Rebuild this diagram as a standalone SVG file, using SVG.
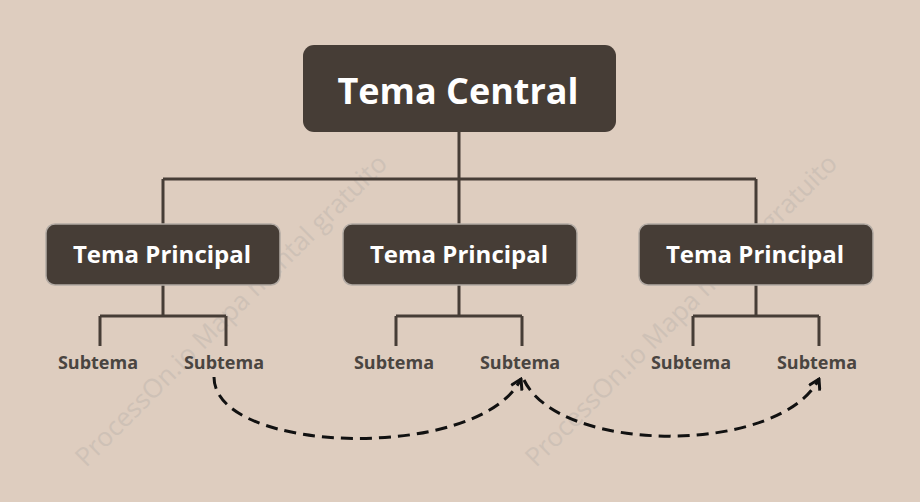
<svg xmlns="http://www.w3.org/2000/svg" width="920" height="502" viewBox="0 0 920 502">
<defs>
<style>
.wm{font-family:"Open Sans","Liberation Sans",sans-serif;font-size:26px;fill:#cec1b6;}
.tree{fill:none;stroke:#463d36;stroke-width:3;}
.central rect{fill:#463d36;}
.main rect{fill:#463d36;stroke:#b3aba4;stroke-width:1.5;}
.t1{font-family:"Open Sans","Liberation Sans",sans-serif;font-weight:bold;font-size:36px;fill:#ffffff;text-anchor:middle;}
.t2{font-family:"Open Sans","Liberation Sans",sans-serif;font-weight:bold;font-size:24px;fill:#ffffff;text-anchor:middle;}
.t3{font-family:"Open Sans","Liberation Sans",sans-serif;font-weight:bold;font-size:18px;fill:#4a4541;text-anchor:middle;}
.rel{fill:none;stroke:#111111;stroke-width:3;stroke-dasharray:12 7;}
</style>
<marker id="arr" viewBox="0 0 14 14" refX="12" refY="7" markerWidth="14" markerHeight="14" markerUnits="userSpaceOnUse" orient="auto">
<path d="M2,1 L12,7 L2,13" fill="none" stroke="#111111" stroke-width="3"/>
</marker>
</defs>
<rect width="920" height="502" fill="#decdbf"/>
<g id="watermark">
<text class="wm" x="86" y="468" transform="rotate(-45 86 468)">ProcessOn.io Mapa mental gratuito</text>
<text class="wm" x="536" y="468" transform="rotate(-45 536 468)">ProcessOn.io Mapa mental gratuito</text>
</g>
<g id="connectors">
<path class="tree" d="M459,132 V179 M163,179 H756 M163,179 V225 M459,179 V225 M756,179 V225"/>
<path class="tree" d="M163,285 V316 M100,316 H226 M100,316 V346 M226,316 V346"/>
<path class="tree" d="M459,285 V316 M396,316 H522 M396,316 V346 M522,316 V346"/>
<path class="tree" d="M756,285 V316 M693,316 H819 M693,316 V346 M819,316 V346"/>
<path class="rel" d="M214,377 C214,455 480,462 521,379" marker-end="url(#arr)"/>
<path class="rel" d="M524,380 C560,455 780,455 819,379" marker-end="url(#arr)"/>
</g>
<g id="central" class="central">
<rect x="303" y="45" width="313" height="87" rx="11"/>
<text class="t1" x="458" y="104">Tema Central</text>
</g>
<g id="main1" class="main">
<rect x="46" y="224" width="234" height="61" rx="9"/>
<text class="t2" x="162" y="263">Tema Principal</text>
</g>
<g id="main2" class="main">
<rect x="343" y="224" width="234" height="61" rx="9"/>
<text class="t2" x="459" y="263">Tema Principal</text>
</g>
<g id="main3" class="main">
<rect x="639" y="224" width="234" height="61" rx="9"/>
<text class="t2" x="755" y="263">Tema Principal</text>
</g>
<g id="sub1"><text class="t3" x="98" y="369">Subtema</text></g>
<g id="sub2"><text class="t3" x="224" y="369">Subtema</text></g>
<g id="sub3"><text class="t3" x="394" y="369">Subtema</text></g>
<g id="sub4"><text class="t3" x="520" y="369">Subtema</text></g>
<g id="sub5"><text class="t3" x="691" y="369">Subtema</text></g>
<g id="sub6"><text class="t3" x="817" y="369">Subtema</text></g>
</svg>
